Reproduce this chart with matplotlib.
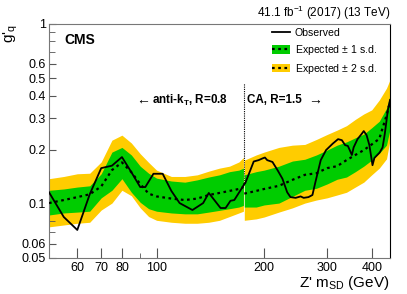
import matplotlib
matplotlib.use("Agg")
import matplotlib.pyplot as plt
from matplotlib.lines import Line2D
from matplotlib.patches import Patch
from matplotlib.ticker import FixedLocator, NullFormatter

plt.rcParams['font.family'] = ['Liberation Sans', 'DejaVu Sans']
plt.rcParams['mathtext.fontset'] = 'custom'
plt.rcParams['mathtext.rm'] = 'Liberation Sans'
plt.rcParams['mathtext.it'] = 'Liberation Sans:italic'
plt.rcParams['mathtext.bf'] = 'Liberation Sans:bold'

# anti-kT R=0.8 region, expected limits
akt_mass = [50, 55, 60, 65, 70, 75, 80, 85, 90, 95, 100, 110, 120, 130, 140, 150, 160, 170, 175]
akt_exp = [0.101, 0.105, 0.109, 0.113, 0.125, 0.154, 0.170, 0.150, 0.129, 0.114, 0.110,
           0.107, 0.105, 0.107, 0.112, 0.115, 0.118, 0.121, 0.124]
akt_1up = [0.119, 0.121, 0.124, 0.126, 0.147, 0.194, 0.206, 0.187, 0.162, 0.148, 0.139,
           0.134, 0.132, 0.136, 0.141, 0.145, 0.151, 0.154, 0.158]
akt_1dn = [0.0867, 0.089, 0.090, 0.091, 0.108, 0.119, 0.138, 0.116, 0.102, 0.094, 0.091,
           0.089, 0.088, 0.088, 0.090, 0.092, 0.094, 0.096, 0.098]
akt_2up = [0.138, 0.142, 0.147, 0.148, 0.171, 0.226, 0.241, 0.218, 0.190, 0.170, 0.154,
           0.142, 0.142, 0.145, 0.152, 0.158, 0.162, 0.171, 0.181]
akt_2dn = [0.0745, 0.0763, 0.078, 0.079, 0.0924, 0.101, 0.119, 0.111, 0.095, 0.085, 0.081,
           0.079, 0.078, 0.078, 0.079, 0.081, 0.085, 0.089, 0.091]

# CA R=1.5 region, expected limits
ca_mass = [176, 190, 200, 220, 240, 260, 280, 300, 320, 340, 360, 380, 400, 420, 440, 450]
ca_exp = [0.114, 0.118, 0.121, 0.126, 0.136, 0.145, 0.148, 0.158, 0.162, 0.175, 0.187,
          0.199, 0.214, 0.230, 0.31, 0.37]
ca_1up = [0.145, 0.151, 0.154, 0.162, 0.173, 0.177, 0.187, 0.199, 0.212, 0.221, 0.233,
          0.244, 0.265, 0.288, 0.34, 0.40]
ca_1dn = [0.096, 0.096, 0.0986, 0.101, 0.110, 0.119, 0.122, 0.129, 0.137, 0.141, 0.151,
          0.162, 0.175, 0.191, 0.212, 0.26]
ca_2up = [0.175, 0.187, 0.194, 0.206, 0.212, 0.214, 0.228, 0.243, 0.257, 0.272, 0.295,
          0.316, 0.333, 0.378, 0.44, 0.49]
ca_2dn = [0.081, 0.0825, 0.0845, 0.090, 0.095, 0.101, 0.105, 0.108, 0.112, 0.116, 0.124,
          0.132, 0.145, 0.158, 0.178, 0.226]

# observed limits
akt_obs_mass = [50, 55, 60, 65, 70, 75, 80, 85, 90, 93, 98, 104, 110, 116, 126, 135, 140,
                151, 156, 161, 165, 174, 176]
akt_obs = [0.116, 0.0845, 0.0716, 0.113, 0.158, 0.163, 0.182, 0.150, 0.124, 0.124, 0.147,
           0.147, 0.118, 0.101, 0.0924, 0.101, 0.115, 0.0948, 0.0948, 0.104, 0.105, 0.124, 0.129]
ca_obs_mass = [176, 177, 183, 187, 193, 198, 201, 204, 211, 218, 225, 232, 237, 245, 253,
               258, 266, 273, 278, 288, 298, 311, 322, 330, 337, 343, 352, 356, 365, 375,
               380, 387, 394, 400, 402, 407, 421, 429, 435, 444, 450]
ca_obs = [0.129, 0.130, 0.154, 0.172, 0.175, 0.179, 0.181, 0.175, 0.171, 0.154, 0.138,
          0.116, 0.109, 0.108, 0.110, 0.108, 0.109, 0.112, 0.131, 0.175, 0.199, 0.216,
          0.229, 0.226, 0.212, 0.210, 0.187, 0.206, 0.229, 0.245, 0.254, 0.241, 0.212,
          0.175, 0.164, 0.180, 0.193, 0.206, 0.244, 0.333, 0.378]

x_major = [60, 70, 80, 100, 200, 300, 400]
x_minor = [50, 90]
y_major = [0.05, 0.06, 0.1, 0.2, 0.3, 0.4, 0.5, 0.6, 1]
y_minor = [0.07, 0.08, 0.09, 0.7, 0.8, 0.9]
boundary = 175.5

green = '#00cc00'
yellow = '#ffcc00'

fig = plt.figure(figsize=(4.07, 2.94), dpi=100)
ax = fig.add_axes([49 / 407, 36 / 294, 341 / 407, 234 / 294])

for m, e, u1, d1, u2, d2 in [(akt_mass, akt_exp, akt_1up, akt_1dn, akt_2up, akt_2dn),
                              (ca_mass, ca_exp, ca_1up, ca_1dn, ca_2up, ca_2dn)]:
    ax.fill_between(m, d2, u2, color=yellow, lw=0, zorder=1)
    ax.fill_between(m, d1, u1, color=green, lw=0, zorder=2)
    ax.plot(m, e, color='black', ls=(0, (1.2, 1.6)), lw=1.6, zorder=3)

ax.plot(akt_obs_mass, akt_obs, color='black', lw=1.3, zorder=4)
ax.plot(ca_obs_mass, ca_obs, color='black', lw=1.3, zorder=4)
ax.vlines(boundary, 0.128, 0.47, color='black', ls=(0, (1, 1)), lw=0.8, zorder=0)

ax.set_xscale('log')
ax.set_yscale('log')
ax.set_xlim(50, 450)
ax.set_ylim(0.05, 1)

ax.xaxis.set_major_locator(FixedLocator(x_major))
ax.xaxis.set_minor_locator(FixedLocator(x_minor))
ax.set_xticklabels([str(v) for v in x_major])
ax.xaxis.set_minor_formatter(NullFormatter())
ax.yaxis.set_major_locator(FixedLocator(y_major))
ax.yaxis.set_minor_locator(FixedLocator(y_minor))
ax.set_yticklabels([f"{v:g}" for v in y_major])
ax.yaxis.set_minor_formatter(NullFormatter())

ax.tick_params(axis='both', which='both', direction='in', labelsize=9, color='#555555')
ax.tick_params(axis='x', which='major', length=7, pad=3)
ax.tick_params(axis='x', which='minor', length=3.5)
ax.tick_params(axis='y', which='major', length=5, pad=2)
ax.tick_params(axis='y', which='minor', length=4)
for side in ['left', 'bottom', 'top']:
    ax.spines[side].set_color('#777777')
ax.spines['right'].set_color('black')

ax.text(0.044, 0.932, 'CMS', transform=ax.transAxes, fontsize=10, fontweight='bold',
        va='center', ha='left')
ax.text(1.0, 1.03, r'41.1 fb$^{-1}$ (2017) (13 TeV)', transform=ax.transAxes, fontsize=8.5,
        ha='right', va='baseline')

# region labels, bold text with plain arrows placed next to them
t_left = ax.text(0.525, 0.675, r'anti-k$_{\mathbf{T}}$, R=0.8', transform=ax.transAxes,
                 fontsize=8.4, fontweight='bold', ha='right', va='center')
t_right = ax.text(0.581, 0.675, 'CA, R=1.5', transform=ax.transAxes, fontsize=8.4,
                  fontweight='bold', ha='left', va='center')
fig.canvas.draw()
inv = ax.transAxes.inverted()
bl = t_left.get_window_extent()
br = t_right.get_window_extent()
x_l = inv.transform((bl.x0 - 3, 0))[0]
x_r = inv.transform((br.x1 + 4, 0))[0]
ax.text(x_l, 0.675, r'$\leftarrow$', transform=ax.transAxes, fontsize=10, ha='right',
        va='center')
ax.text(x_r, 0.675, r'$\rightarrow$', transform=ax.transAxes, fontsize=10, ha='left',
        va='center')

fig.text(390 / 407, 1 - 283 / 294, r"Z' m$_{\mathrm{SD}}$ (GeV)", fontsize=11, ha='right',
         va='center')
fig.text(11 / 407, 1 - 24 / 294, r"g$'_{\mathrm{q}}$", fontsize=11, rotation=90,
         ha='center', va='top')

dot = Line2D([], [], color='black', ls=(0, (1.2, 1.6)), lw=1.6)
handles = [Line2D([], [], color='black', lw=1.3),
           (Patch(color=green, lw=0), dot),
           (Patch(color=yellow, lw=0), dot)]
labels = ['Observed', r'Expected $\pm$ 1 s.d.', r'Expected $\pm$ 2 s.d.']
fig.legend(handles, labels, loc='upper left', bbox_to_anchor=(272 / 407, 1 - 28 / 294),
           frameon=False, fontsize=7.6, handlelength=1.7, handleheight=0.9,
           handletextpad=0.45, labelspacing=0.45, borderpad=0, borderaxespad=0)

fig.savefig('out.png', dpi=100)
